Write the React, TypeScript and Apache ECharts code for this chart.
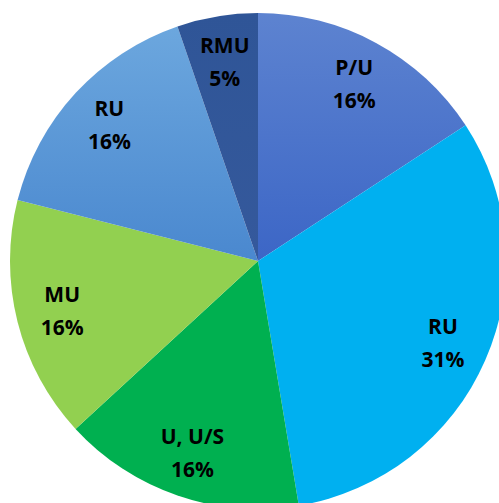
import React, { useEffect, useRef } from "react";
import * as echarts from "echarts";

const categories = ["P/U", "RU", "U, U/S", "MU", "RU", "RMU"];
const values = [3, 6, 3, 3, 3, 1];
const percentLabels = ["16%", "31%", "16%", "16%", "16%", "5%"];

const lg = (a: string, b: string) =>
  new echarts.graphic.LinearGradient(0, 0, 0, 1, [
    { offset: 0, color: a },
    { offset: 1, color: b },
  ]);

export default function App() {
  const ref = useRef<HTMLDivElement>(null);
  useEffect(() => {
    document.body.style.margin = "0";
    const chart = echarts.init(ref.current!, null, { renderer: "svg" });
    const colors = [
      lg("#5d83d0", "#3c66c6"),
      "#00b0f0",
      "#00b050",
      "#92d050",
      lg("#6ca7de", "#4a88cf"),
      lg("#2f5597", "#35599c"),
    ];
    const data = values.map((v, i) => ({
      value: v,
      name: categories[i],
      itemStyle: { color: colors[i] },
      pct: percentLabels[i],
    }));
    const labelData = values.map((v, i) => ({
      value: v,
      name: categories[i] + "\n" + percentLabels[i],
    }));
    chart.setOption({
      animation: false,
      series: [
        {
          type: "pie",
          center: [258, 261],
          radius: [0, 248],
          startAngle: 90,
          clockwise: true,
          label: { show: false },
          labelLine: { show: false },
          emphasis: { disabled: true },
          itemStyle: { borderWidth: 0 },
          data,
        },
        {
          type: "pie",
          center: [258, 261],
          radius: [150, 248],
          startAngle: 90,
          clockwise: true,
          silent: true,
          itemStyle: { color: "rgba(0,0,0,0)", borderWidth: 0 },
          label: {
            show: true,
            position: "inside",
            formatter: "{b}",
            color: "#000",
            fontFamily: "Open Sans",
            fontWeight: "bold",
            fontSize: 21,
            lineHeight: 33,
          },
          labelLine: { show: false },
          emphasis: { disabled: true },
          data: labelData,
        },
      ],
    });
    return () => chart.dispose();
  }, []);
  return <div ref={ref} style={{ width: 499, height: 503 }} />;
}
